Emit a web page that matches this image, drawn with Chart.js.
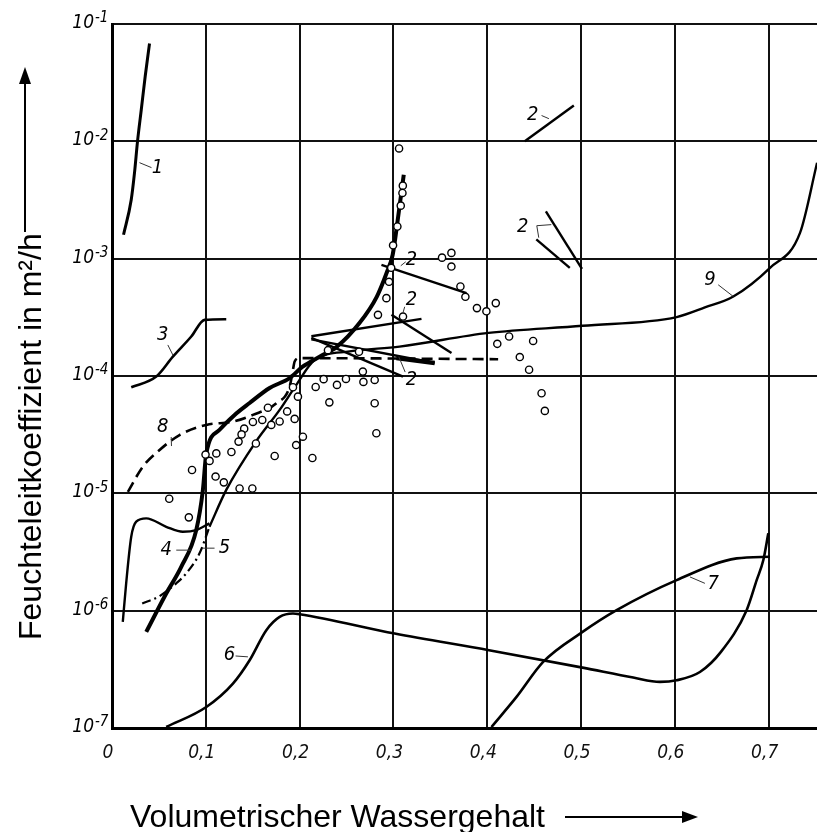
<!DOCTYPE html>
<html>
<head>
<meta charset="utf-8">
<script src="https://cdn.jsdelivr.net/npm/chart.js@4"></script>
<style>
  html, body { margin: 0; padding: 0; background: #fff; }
  #wrap { width: 817px; height: 832px; }
</style>
</head>
<body>
<div id="wrap"><canvas id="chart" width="817" height="832"></canvas></div>
<script>
// =====================
// Data (x = volumetric water content, y = coefficient in m²/h)
// =====================
const xTicks = [0, 0.1, 0.2, 0.3, 0.4, 0.5, 0.6, 0.7];
const xTickLabels = ["0", "0,1", "0,2", "0,3", "0,4", "0,5", "0,6", "0,7"];
const yTicks = [1e-7, 1e-6, 1e-5, 1e-4, 1e-3, 1e-2, 1e-1];
const yTickExps = ["-7", "-6", "-5", "-4", "-3", "-2", "-1"];

const curve1 = [[0.0123, 1.6e-3], [0.0205, 3.18e-3], [0.024, 5.41e-3], [0.0272, 1.0e-2],
  [0.0312, 1.86e-2], [0.0354, 3.59e-2], [0.040, 6.82e-2]];

// short measured segments, all labelled "2"
const seg2a = [[0.440, 1.0e-2], [0.4923, 2.02e-2]];
const seg2b = [[0.4625, 2.53e-3], [0.501, 8.2e-4]];
const seg2c = [[0.4523, 1.46e-3], [0.488, 8.36e-4]];
const seg2d = [[0.2872, 8.87e-4], [0.3779, 5.08e-4]];
const seg2e = [[0.2979, 3.32e-4], [0.3619, 1.57e-4]];
const seg2f = [[0.2125, 2.18e-4], [0.3299, 3.07e-4]];
const seg2g = [[0.2125, 2.05e-4], [0.344, 1.29e-4]];
const seg2gEnd = [[0.3032, 1.42e-4], [0.344, 1.29e-4]];
const seg2h = [[0.2125, 2.11e-4], [0.3102, 9.88e-5]];

const curve3 = [[0.0205, 8.02e-5], [0.0472, 9.88e-5], [0.0649, 1.46e-4], [0.0845, 2.17e-4],
  [0.0987, 3.01e-4], [0.1218, 3.05e-4]];

const curve4 = [[0.0365, 6.59e-7], [0.0578, 1.40e-6], [0.0738, 2.36e-6], [0.0898, 4.86e-6],
  [0.0969, 1.07e-5], [0.1005, 2.19e-5], [0.1147, 3.48e-5], [0.1307, 4.66e-5], [0.1467, 5.89e-5],
  [0.168, 7.9e-5], [0.1894, 9.6e-5], [0.2032, 1.2e-4], [0.2213, 1.46e-4], [0.2395, 1.77e-4],
  [0.264, 2.84e-4], [0.2822, 4.73e-4], [0.2928, 7.59e-4], [0.2992, 1.08e-3], [0.3046, 2.15e-3],
  [0.311, 5.2e-3]];

const curve4b = [[0.0115, 8.02e-7], [0.0151, 1.71e-6], [0.0205, 4.26e-6], [0.0258, 5.73e-6],
  [0.0365, 6.12e-6], [0.0578, 5.19e-6], [0.0755, 4.7e-6], [0.0898, 4.86e-6], [0.1039, 5.55e-6]];

const curve5 = [[0.0322, 1.15e-6], [0.0507, 1.33e-6], [0.0685, 1.71e-6], [0.0792, 2.08e-6],
  [0.0933, 3.08e-6], [0.1039, 5.19e-6]];

const curve6 = [[0.0578, 1.02e-7], [0.1005, 1.51e-7], [0.1289, 2.39e-7], [0.1467, 3.78e-7],
  [0.1645, 6.82e-7], [0.1787, 8.85e-7], [0.1929, 9.46e-7], [0.2, 9.33e-7], [0.3014, 6.38e-7],
  [0.4019, 4.6e-7], [0.5016, 3.27e-7], [0.5556, 2.69e-7], [0.5841, 2.47e-7], [0.6019, 2.55e-7],
  [0.6267, 3.0e-7], [0.6489, 4.43e-7], [0.6765, 1.01e-6], [0.6872, 1.82e-6], [0.6943, 2.7e-6],
  [0.6996, 4.56e-6]];

const curve7 = [[0.4045, 1.02e-7], [0.4312, 1.84e-7], [0.4596, 3.66e-7], [0.5016, 6.59e-7],
  [0.5379, 1.01e-6], [0.6019, 1.82e-6], [0.6659, 2.79e-6], [0.7014, 2.88e-6]];

const curve8 = [[0.0169, 1.03e-5], [0.0329, 1.69e-5], [0.0507, 2.34e-5], [0.072, 3.14e-5],
  [0.1005, 3.83e-5], [0.1289, 4.08e-5], [0.1502, 4.66e-5], [0.1752, 5.86e-5], [0.1894, 8.13e-5],
  [0.1929, 1.13e-4], [0.1947, 1.33e-4], [0.2, 1.42e-4], [0.4116, 1.39e-4]];

const curve9 = [[0.1039, 5.19e-6], [0.1218, 1.07e-5], [0.1538, 2.79e-5], [0.1787, 5.14e-5],
  [0.1965, 8.41e-5], [0.216, 1.37e-4], [0.2533, 1.62e-4], [0.3065, 1.78e-4], [0.4014, 2.33e-4],
  [0.5016, 2.68e-4], [0.6019, 3.18e-4], [0.632, 3.84e-4], [0.6623, 4.76e-4], [0.7014, 8.36e-4],
  [0.7334, 1.66e-3], [0.7516, 6.58e-3]];

const measured = [[0.306, 8.7e-3], [0.310, 4.19e-3], [0.3096, 3.63e-3], [0.3078, 2.83e-3],
  [0.3042, 1.88e-3], [0.2996, 1.30e-3], [0.2976, 8.36e-4], [0.2953, 6.35e-4], [0.2925, 4.61e-4],
  [0.2835, 3.32e-4], [0.3102, 3.21e-4], [0.3518, 1.02e-3], [0.3618, 1.12e-3], [0.3618, 8.57e-4],
  [0.3714, 5.79e-4], [0.3767, 4.73e-4], [0.389, 3.79e-4], [0.3991, 3.56e-4], [0.4091, 4.18e-4],
  [0.4107, 1.88e-4], [0.4233, 2.17e-4], [0.4489, 1.99e-4], [0.4347, 1.45e-4], [0.4446, 1.13e-4],
  [0.4579, 7.13e-5], [0.4614, 5.04e-5], [0.2302, 1.66e-4], [0.2633, 1.61e-4], [0.268, 8.91e-5],
  [0.2256, 9.4e-5], [0.2171, 8.07e-5], [0.2398, 8.4e-5], [0.2494, 9.44e-5], [0.280, 9.25e-5],
  [0.2317, 5.96e-5], [0.280, 5.86e-5], [0.2818, 3.25e-5], [0.1929, 8.02e-5], [0.1982, 6.67e-5],
  [0.1867, 4.99e-5], [0.1947, 4.31e-5], [0.1787, 4.1e-5], [0.1698, 3.83e-5], [0.1662, 5.37e-5],
  [0.1602, 4.22e-5], [0.1502, 4.06e-5], [0.1409, 3.56e-5], [0.1381, 3.18e-5], [0.1349, 2.76e-5],
  [0.1534, 2.66e-5], [0.1963, 2.58e-5], [0.2035, 3.04e-5], [0.1273, 2.25e-5], [0.1112, 2.19e-5],
  [0.0997, 2.14e-5], [0.104, 1.89e-5], [0.1734, 2.08e-5], [0.2136, 2.0e-5], [0.0853, 1.58e-5],
  [0.1104, 1.39e-5], [0.1192, 1.24e-5], [0.136, 1.10e-5], [0.1496, 1.10e-5], [0.061, 8.99e-6],
  [0.0819, 6.24e-6], [0.2674, 1.09e-4]];

// curve numbers and their leader lines (in data units)
const curveLabels = [
  ["1", 0.0485, 5.97e-3], ["2", 0.4486, 1.69e-2], ["2", 0.4379, 1.87e-3], ["2", 0.3192, 9.79e-4],
  ["2", 0.3192, 4.46e-4], ["2", 0.3192, 9.26e-5], ["3", 0.0542, 2.24e-4], ["4", 0.0578, 3.28e-6],
  ["5", 0.12, 3.41e-6], ["6", 0.1253, 4.17e-7], ["7", 0.6409, 1.71e-6], ["8", 0.0542, 3.7e-5],
  ["9", 0.6374, 6.61e-4]
];
const leaders = [
  [[0.0293, 6.58e-3], [0.0421, 5.97e-3]],
  [[0.4579, 1.66e-2], [0.4657, 1.56e-2]],
  [[0.4683, 1.95e-3], [0.4528, 1.91e-3], [0.4549, 1.51e-3]],
  [[0.3078, 8.7e-4], [0.3131, 9.4e-4]],
  [[0.312, 3.89e-4], [0.3099, 3.39e-4]],
  [[0.3125, 1.08e-4], [0.3057, 1.46e-4]],
  [[0.0595, 1.84e-4], [0.0649, 1.51e-4]],
  [[0.0685, 3.28e-6], [0.0845, 3.28e-6]],
  [[0.0965, 3.41e-6], [0.1093, 3.41e-6]],
  [[0.1317, 4.11e-7], [0.1449, 4.04e-7]],
  [[0.616, 1.94e-6], [0.632, 1.71e-6]],
  [[0.0631, 3.02e-5], [0.0634, 2.53e-5]],
  [[0.6462, 5.99e-4], [0.6623, 4.76e-4]]
];

const xTitle = "Volumetrischer Wassergehalt";
const yTitle = "Feuchteleitkoeffizient in m²/h";

// =====================
// Helpers
// =====================
const NUM_FONT = "'Liberation Sans Narrow', 'DejaVu Sans Condensed', 'Liberation Sans', sans-serif";
const TITLE_FONT = "'Liberation Sans', Arial, sans-serif";

function pts(arr) {
  return arr.map(([x, y]) => ({ x, y }));
}

function curve(arr, extra) {
  return Object.assign({
    type: "line",
    data: pts(arr),
    borderColor: "#000",
    borderWidth: 2.6,
    pointRadius: 0,
    fill: false,
    cubicInterpolationMode: "monotone",
    order: 2
  }, extra || {});
}

function segment(arr, width) {
  return curve(arr, { cubicInterpolationMode: "default", tension: 0, borderWidth: width || 2.4 });
}

// =====================
// Plugins: tick labels, curve numbers, axis titles
// =====================
const decorations = {
  id: "decorations",
  afterDatasetsDraw(chart) {
    const ctx = chart.ctx;
    const xs = chart.scales.x, ys = chart.scales.y;
    ctx.save();

    // leader lines
    ctx.strokeStyle = "#333";
    ctx.lineWidth = 1;
    leaders.forEach(l => {
      ctx.beginPath();
      l.forEach(([x, y], i) => {
        const px = xs.getPixelForValue(x), py = ys.getPixelForValue(y);
        if (i) ctx.lineTo(px, py); else ctx.moveTo(px, py);
      });
      ctx.stroke();
    });

    // curve numbers
    ctx.fillStyle = "#000";
    ctx.font = "italic 20px " + NUM_FONT;
    ctx.textAlign = "center";
    ctx.textBaseline = "middle";
    curveLabels.forEach(([t, x, y]) => {
      ctx.fillText(t, xs.getPixelForValue(x), ys.getPixelForValue(y));
    });
    ctx.restore();
  },
  afterDraw(chart) {
    const ctx = chart.ctx;
    const ys = chart.scales.y;
    ctx.save();
    ctx.fillStyle = "#000";
    ctx.strokeStyle = "#000";

    // y tick labels as 10 with raised exponent
    yTicks.forEach((v, i) => {
      const py = ys.getPixelForValue(v);
      ctx.font = "italic 19px " + NUM_FONT;
      ctx.textAlign = "right";
      ctx.textBaseline = "middle";
      ctx.fillText("10", 94, py - 1);
      ctx.font = "italic 15px " + NUM_FONT;
      ctx.textAlign = "left";
      ctx.textBaseline = "top";
      ctx.fillText(yTickExps[i], 95, py - 13);
    });

    // x title with arrow
    ctx.font = "32px " + TITLE_FONT;
    ctx.textAlign = "left";
    ctx.textBaseline = "alphabetic";
    ctx.fillText(xTitle, 130, 827);
    ctx.lineWidth = 2;
    ctx.beginPath();
    ctx.moveTo(565, 817);
    ctx.lineTo(684, 817);
    ctx.stroke();
    ctx.beginPath();
    ctx.moveTo(698, 817);
    ctx.lineTo(682, 811);
    ctx.lineTo(682, 823);
    ctx.closePath();
    ctx.fill();

    // y title with arrow
    ctx.save();
    ctx.translate(41, 640);
    ctx.rotate(-Math.PI / 2);
    ctx.fillText(yTitle, 0, 0);
    ctx.restore();
    ctx.beginPath();
    ctx.moveTo(25, 232);
    ctx.lineTo(25, 82);
    ctx.stroke();
    ctx.beginPath();
    ctx.moveTo(25, 67);
    ctx.lineTo(19, 84);
    ctx.lineTo(31, 84);
    ctx.closePath();
    ctx.fill();
    ctx.restore();
  }
};

// =====================
// Chart.js
// =====================
const ctx = document.getElementById("chart").getContext("2d");
new Chart(ctx, {
  type: "scatter",
  data: {
    datasets: [
      {
        type: "scatter",
        data: pts(measured),
        pointStyle: "circle",
        pointRadius: 3.6,
        borderWidth: 1.4,
        borderColor: "#000",
        backgroundColor: "#fff",
        order: 0
      },
      curve(curve1, { borderWidth: 3 }),
      segment(seg2a), segment(seg2b), segment(seg2c), segment(seg2d),
      segment(seg2e), segment(seg2f), segment(seg2g), segment(seg2gEnd, 4.5), segment(seg2h),
      curve(curve3),
      curve(curve4, { borderWidth: 4 }),
      curve(curve4b, { borderWidth: 2.4 }),
      curve(curve5, { borderWidth: 2.2, borderDash: [9, 4, 2, 4] }),
      curve(curve6),
      curve(curve7),
      curve(curve8, { borderWidth: 2.6, borderDash: [11, 6] }),
      curve(curve9, { borderWidth: 2.4 })
    ]
  },
  options: {
    responsive: false,
    animation: false,
    events: [],
    layout: { autoPadding: false, padding: { top: 24, left: 0, right: 0, bottom: 0 } },
    plugins: { legend: { display: false }, tooltip: { enabled: false } },
    scales: {
      x: {
        type: "linear",
        min: 0,
        max: 0.7515,
        afterBuildTicks: s => { s.ticks = xTicks.map(v => ({ value: v })); },
        afterFit: s => { s.height = 104; s.paddingRight = 0; s.paddingLeft = 0; },
        grid: { color: "#111", lineWidth: 2, drawTicks: false },
        border: { display: true, color: "#000", width: 3 },
        ticks: {
          padding: 14,
          labelOffset: -4,
          color: "#111",
          font: { family: NUM_FONT, size: 19, style: "italic" },
          callback: (v, i) => xTickLabels[i]
        }
      },
      y: {
        type: "logarithmic",
        min: 1e-7,
        max: 1e-1,
        afterBuildTicks: s => { s.ticks = yTicks.map(v => ({ value: v })); },
        afterFit: s => { s.width = 112; s.paddingTop = 0; s.paddingBottom = 0; },
        grid: { color: "#111", lineWidth: 2, drawTicks: false },
        border: { display: true, color: "#000", width: 3 },
        ticks: { display: false }
      }
    }
  },
  plugins: [decorations]
});
</script>
</body>
</html>
